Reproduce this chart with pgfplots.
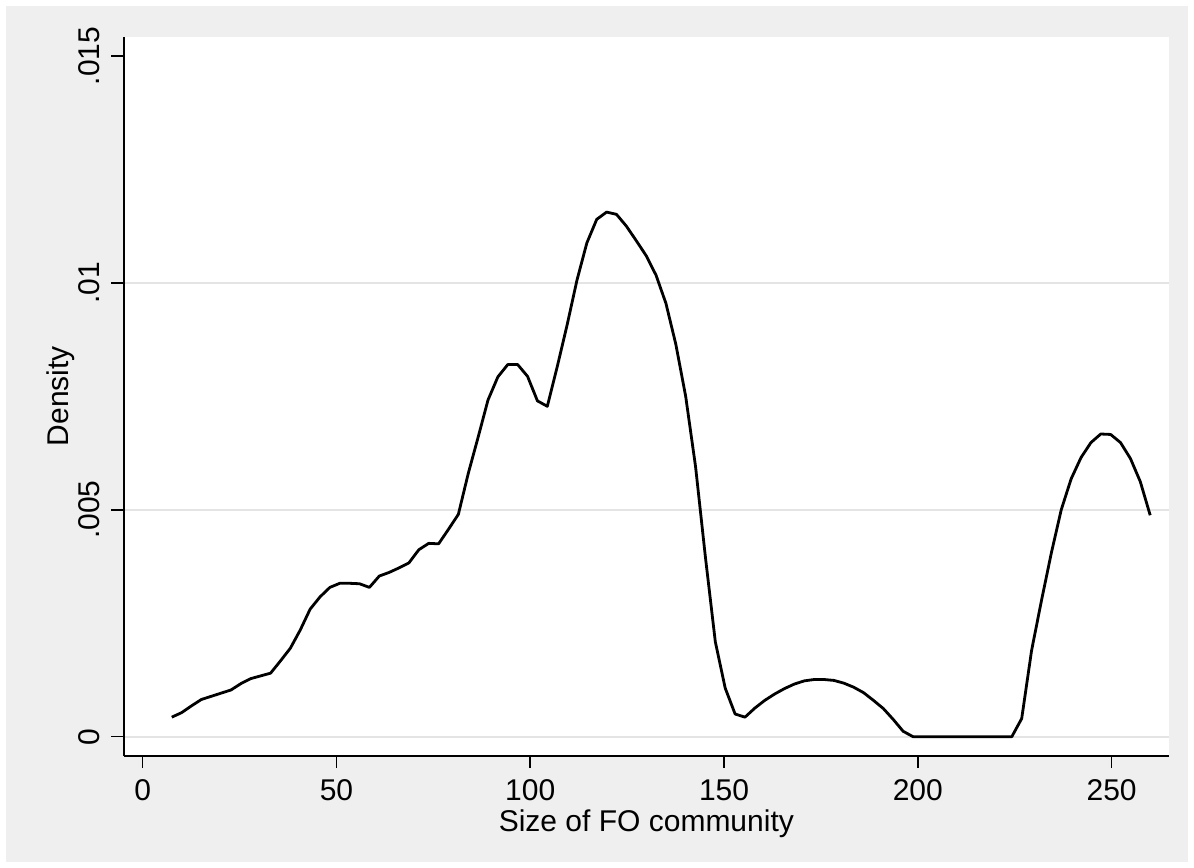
\documentclass[border=0pt]{standalone}
\usepackage{pgfplots}
\pgfplotsset{compat=1.18}
\usepackage{fontspec}
\setmainfont{Liberation Sans}
\definecolor{bggray}{RGB}{239,239,239}
\definecolor{gridgray}{RGB}{228,228,228}
\newcommand{\lbl}{\fontsize{30bp}{36bp}\selectfont}
\begin{document}
\begin{tikzpicture}
\useasboundingbox (0,0) rectangle (1194bp,868bp);
\fill[white] (0,0) rectangle (1194bp,868bp);
\fill[bggray] (6bp,6bp) rectangle (1188bp,862bp);
\begin{axis}[
  at={(123.7bp,112.3bp)}, anchor=south west,
  scale only axis, width=1045.3bp, height=719bp,
  xmin=-4.9, xmax=264.8, ymin=-0.000419, ymax=0.015425,
  axis x line*=bottom, axis y line*=left,
  axis line style={line width=1.6bp, black},
  axis background/.style={fill=white},
  tick align=outside, major tick length=12.5bp,
  tick style={line width=1.6bp, black},
  xtick={0,50,100,150,200,250},
  xticklabels={0,50,100,150,200,250},
  ytick={0,0.005,0.01},
  yticklabels={0,.005,.01},
  extra y ticks={0.015}, extra y tick labels={.015},
  extra y tick style={grid=none},
  scaled y ticks=false, scaled x ticks=false,
  /pgf/number format/assume math mode=true,
  ymajorgrids, major grid style={line width=2bp, gridgray},
  tick label style={font=\lbl},
  yticklabel style={rotate=90, anchor=south, inner sep=0pt, inner ysep=11.5bp},
  xticklabel style={anchor=north, inner sep=0pt, inner ysep=11.5bp},
  label style={font=\lbl},
  xlabel={Size of FO community},
  ylabel={Density},
  xlabel style={at={(axis description cs:0.5,-0.1061)}, anchor=base},
  ylabel style={at={(axis description cs:-0.0530,0.5)}, anchor=base},
]
\addplot[black, line width=2.8bp, line join=round, no marks] table {
x y
7.50 0.00043
10.05 0.00053
12.60 0.00068
15.15 0.00082
17.70 0.00089
20.25 0.00096
22.80 0.00103
25.35 0.00117
27.90 0.00128
30.45 0.00134
33.00 0.00140
35.55 0.00167
38.10 0.00195
40.65 0.00235
43.20 0.00281
45.75 0.00308
48.30 0.00329
50.85 0.00338
53.40 0.00338
55.95 0.00337
58.50 0.00329
61.05 0.00354
63.60 0.00362
66.15 0.00372
68.70 0.00383
71.25 0.00412
73.80 0.00426
76.35 0.00425
78.90 0.00457
81.45 0.00490
84.00 0.00580
86.55 0.00660
89.10 0.00742
91.65 0.00793
94.20 0.00820
96.75 0.00820
99.30 0.00794
101.85 0.00740
104.40 0.00728
106.95 0.00815
109.50 0.00907
112.05 0.01006
114.60 0.01088
117.15 0.01140
119.70 0.01156
122.25 0.01151
124.80 0.01125
127.35 0.01093
129.90 0.01060
132.45 0.01017
135.00 0.00955
137.55 0.00865
140.10 0.00750
142.65 0.00595
145.20 0.00395
147.75 0.00209
150.30 0.00107
152.85 0.00050
155.40 0.00043
157.95 0.00063
160.50 0.00080
163.05 0.00094
165.60 0.00106
168.15 0.00116
170.70 0.00123
173.25 0.00126
175.80 0.00126
178.35 0.00124
180.90 0.00118
183.45 0.00109
186.00 0.00097
188.55 0.00080
191.10 0.00062
193.65 0.00038
196.20 0.00012
198.75 0.00000
201.30 0.00000
203.85 0.00000
206.40 0.00000
208.95 0.00000
211.50 0.00000
214.05 0.00000
216.60 0.00000
219.15 0.00000
221.70 0.00000
224.25 0.00000
226.80 0.00040
229.35 0.00190
231.90 0.00300
234.45 0.00405
237.00 0.00500
239.55 0.00568
242.10 0.00615
244.65 0.00648
247.20 0.00667
249.75 0.00666
252.30 0.00648
254.85 0.00613
257.40 0.00562
259.95 0.00488
};
\end{axis}
\end{tikzpicture}
\end{document}
